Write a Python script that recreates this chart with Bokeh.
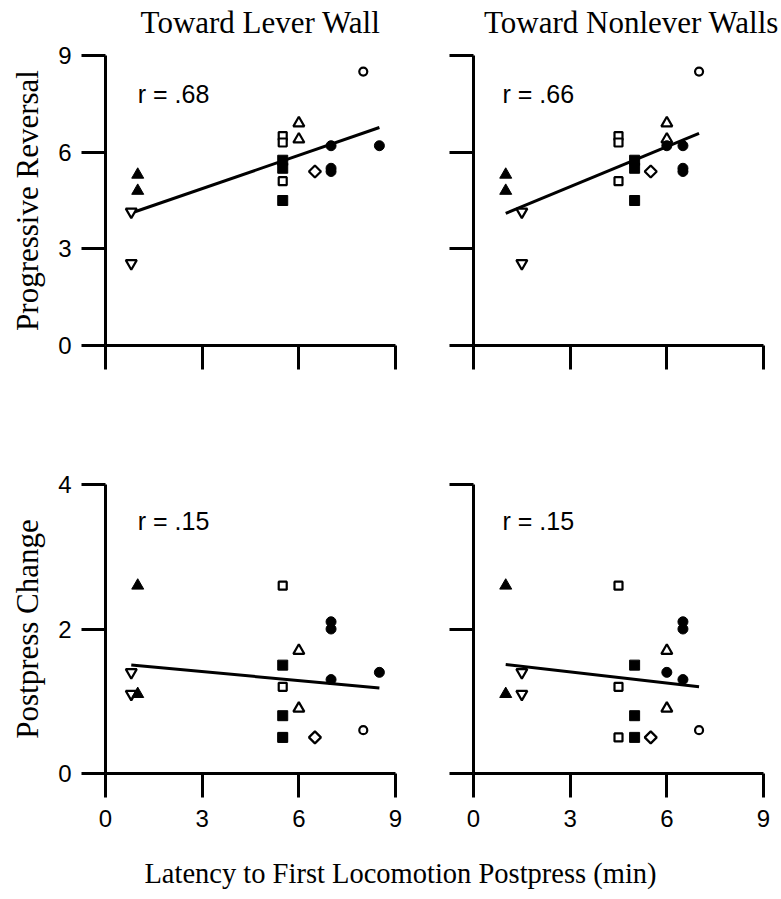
import numpy as np
from bokeh.plotting import figure
from bokeh.models import Range1d, FixedTicker, Label, CustomJSTickFormatter
from bokeh.layouts import column, row
from bokeh.embed import file_html
from bokeh.resources import INLINE

# ---- data: one entry per animal ----
marker_kind = ["tri_f", "tri_f", "itri_o", "itri_o", "sq_o", "sq_o", "sq_o",
               "sq_f", "sq_f", "sq_f", "tri_o", "tri_o", "dia_o",
               "circ_f", "circ_f", "circ_f", "circ_f", "circ_o"]
lever_latency = [1.0, 1.0, 0.8, 0.8, 5.5, 5.5, 5.5, 5.5, 5.5, 5.5, 6.0, 6.0, 6.5,
                 7.0, 7.0, 7.0, 8.5, 8.0]
nonlever_latency = [1.0, 1.0, 1.5, 1.5, 4.5, 4.5, 4.5, 5.0, 5.0, 5.0, 6.0, 6.0, 5.5,
                    6.5, 6.5, 6.5, 6.0, 7.0]
progressive_reversal = [5.3, 4.8, 4.15, 2.55, 6.5, 6.3, 5.1, 5.75, 5.5, 4.5, 6.9, 6.4, 5.4,
                        6.2, 5.5, 5.4, 6.2, 8.5]
postpress_change = [2.6, 1.1, 1.4, 1.1, 2.6, 1.2, 0.5, 1.5, 0.8, 0.5, 1.7, 0.9, 0.5,
                    2.1, 2.0, 1.3, 1.4, 0.6]

column_titles = ["Toward Lever Wall", "Toward Nonlever Walls"]
row_titles = ["Progressive Reversal", "Postpress Change"]
x_title = "Latency to First Locomotion Postpress (min)"
r_labels = [[".68", ".66"], [".15", ".15"]]
x_ticks = [0, 3, 6, 9]
y_ticks_top = [0, 3, 6, 9]
y_ticks_bottom = [0, 2, 4]

SERIF = "Liberation Serif"
SANS = "Liberation Sans"

STYLES = {
    "sq_o":   dict(marker="square", size=8, fill_color="white", line_width=2.2, angle=0.0),
    "itri_o": dict(marker="inverted_triangle", size=11, fill_color="white", line_width=2.2, angle=0.0),
    "tri_o":  dict(marker="triangle", size=11, fill_color="white", line_width=2.2, angle=0.0),
    "dia_o":  dict(marker="square", size=8.5, fill_color="white", line_width=2.2, angle=np.pi / 4),
    "circ_o": dict(marker="circle", size=8, fill_color="white", line_width=2.2, angle=0.0),
    "tri_f":  dict(marker="triangle", size=12, fill_color="black", line_width=1, angle=0.0),
    "sq_f":   dict(marker="square", size=10, fill_color="black", line_width=1, angle=0.0),
    "circ_f": dict(marker="circle", size=10, fill_color="black", line_width=1, angle=0.0),
}
ORDER = ["sq_o", "itri_o", "tri_o", "dia_o", "circ_o", "tri_f", "sq_f", "circ_f"]


def blank_formatter():
    return CustomJSTickFormatter(code="return ''")


def panel(xv, yv, ymax, yticks, fh, r_text, r_x, r_y, left, bottom, borders, ylabel=None):
    bl, br, bt, bb = borders
    p = figure(frame_width=290, frame_height=fh,
               x_range=Range1d(0, 9), y_range=Range1d(0, ymax),
               output_backend="svg", toolbar_location=None,
               min_border_left=bl, min_border_right=br,
               min_border_top=bt, min_border_bottom=bb)
    p.grid.visible = False
    p.outline_line_color = None
    p.background_fill_color = "white"
    p.border_fill_color = "white"
    p.xaxis.ticker = FixedTicker(ticks=x_ticks)
    p.yaxis.ticker = FixedTicker(ticks=yticks)
    for ax in (p.xaxis[0], p.yaxis[0]):
        ax.axis_line_width = 3
        ax.axis_line_color = "black"
        ax.major_tick_line_width = 3
        ax.major_tick_line_color = "black"
        ax.major_tick_out = 24
        ax.major_tick_in = 0
        ax.minor_tick_out = 0
        ax.minor_tick_in = 0
        ax.major_label_text_font = SANS
        ax.major_label_text_font_size = "24px"
        ax.major_label_text_color = "black"
    p.yaxis.major_label_standoff = 10
    p.xaxis.major_label_standoff = 12
    if not left:
        p.yaxis.formatter = blank_formatter()
    if not bottom:
        p.xaxis.formatter = blank_formatter()
    if ylabel:
        p.yaxis.axis_label = ylabel
        p.yaxis.axis_label_text_font = SERIF
        p.yaxis.axis_label_text_font_size = "31px"
        p.yaxis.axis_label_text_font_style = "normal"
        p.yaxis.axis_label_text_color = "black"
        p.yaxis.axis_label_standoff = 10

    xa = np.array(xv)
    ya = np.array(yv)
    kinds = np.array(marker_kind)
    # least-squares regression line over the observed latency range
    slope, icpt = np.polyfit(xa, ya, 1)
    fx = np.array([xa.min(), xa.max()])
    p.line(fx, icpt + slope * fx, line_color="black", line_width=3)
    for k in ORDER:
        m = kinds == k
        st = STYLES[k]
        p.scatter(xa[m], ya[m], marker=st["marker"], size=st["size"],
                  fill_color=st["fill_color"], line_color="black",
                  line_width=st["line_width"], angle=st["angle"])
    p.add_layout(Label(x=r_x, y=r_y, text="r = " + r_text, text_font=SANS,
                       text_font_size="25px", text_align="left",
                       text_baseline="alphabetic", text_color="black"))
    return p


def text_strip(h, items):
    f = figure(frame_width=781, frame_height=h, x_range=Range1d(0, 781),
               y_range=Range1d(0, h), x_axis_type=None, y_axis_type=None,
               output_backend="svg", toolbar_location=None, min_border=0)
    f.grid.visible = False
    f.outline_line_color = None
    for (tx, ty, txt, size) in items:
        f.add_layout(Label(x=tx, y=ty, text=txt, text_font=SERIF, text_font_size=size,
                           text_align="center", text_baseline="alphabetic",
                           text_color="black"))
    return f


header = text_strip(40, [(260, 18.5, column_titles[0], "31px"),
                         (631, 18.5, column_titles[1], "31px")])

tl = panel(lever_latency, progressive_reversal, 9, y_ticks_top, 290, r_labels[0][0], 1.0, 7.82,
           True, False, (105, 30, 15, 75), row_titles[0])
tr = panel(nonlever_latency, progressive_reversal, 9, y_ticks_top, 290, r_labels[0][1], 0.9, 7.82,
           False, False, (48, 18, 15, 75))
bl = panel(lever_latency, postpress_change, 4, y_ticks_bottom, 289, r_labels[1][0], 1.0, 3.5,
           True, True, (105, 30, 64, 67), row_titles[1])
br = panel(nonlever_latency, postpress_change, 4, y_ticks_bottom, 289, r_labels[1][1], 0.9, 3.5,
           False, True, (48, 18, 64, 67))

footer = text_strip(59, [(400, 26.5, x_title, "28.5px")])

layout = column(header, row(tl, tr, spacing=0), row(bl, br, spacing=0), footer, spacing=0)

open("out.html", "w").write(file_html(layout, INLINE))
